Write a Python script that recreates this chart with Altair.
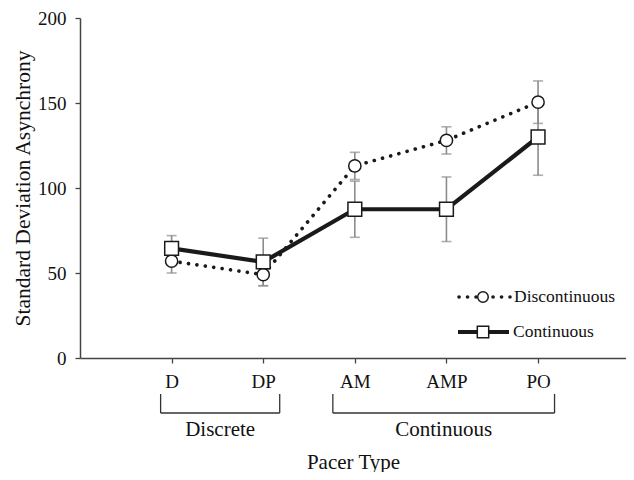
import altair as alt
import pandas as pd

categories = ["D", "DP", "AM", "AMP", "PO"]
series = ["Discontinuous", "Continuous"]
disc_mean = [57, 49, 113, 128, 150.5]
disc_err = [7, 6.5, 8, 8, 12.5]
cont_mean = [64.5, 56.5, 87.5, 87.5, 130]
cont_err = [7.5, 14, 16.5, 19, 22.5]

groups = ["Discrete", "Continuous"]
group_lo = [0.88, 2.76]
group_hi = [2.18, 5.18]

y_ticks = [0, 50, 100, 150, 200]

FONT = "Liberation Serif"
LINE = "#1a1a1a"
ERR = "#8c8c8c"
TXT = "#111111"
AX = "#444444"

rows = []
for s, means, errs in [(series[0], disc_mean, disc_err), (series[1], cont_mean, cont_err)]:
    for i, c in enumerate(categories):
        rows.append({"series": s, "cat": c, "x": i + 1, "mean": means[i],
                     "lo": means[i] - errs[i], "hi": means[i] + errs[i]})
df = pd.DataFrame(rows)
caps = pd.concat([
    df[["series", "x", "lo"]].rename(columns={"lo": "v"}),
    df[["series", "x", "hi"]].rename(columns={"hi": "v"}),
])
gdf = pd.DataFrame({"group": groups, "lo": group_lo, "hi": group_hi})
gdf["mid"] = (gdf["lo"] + gdf["hi"]) / 2

label_expr = "[''," + ",".join("'%s'" % c for c in categories) + ",''][datum.value]"

xscale = alt.Scale(domain=[0, 5.96], nice=False)
yscale = alt.Scale(domain=[0, 200], nice=False)

common_axis = dict(grid=False, tickSize=5, labelFont=FONT, titleFont=FONT,
                   labelColor=TXT, titleColor=TXT, domainColor=AX, tickColor=AX,
                   domainWidth=1.5, tickWidth=1.3, titleFontWeight="normal")
xaxis = alt.Axis(values=list(range(1, len(categories) + 1)), labelExpr=label_expr,
                 title="Pacer Type", labelPadding=9, titlePadding=60,
                 labelFontSize=19, titleFontSize=21, **common_axis)
yaxis = alt.Axis(values=y_ticks, title="Standard Deviation Asynchrony",
                 labelPadding=9, titlePadding=3,
                 labelFontSize=19, titleFontSize=21.5, **common_axis)

base = alt.Chart(df)

err_rule = base.mark_rule(color=ERR, strokeWidth=1.6).encode(
    x=alt.X("x:Q", scale=xscale, axis=xaxis),
    y=alt.Y("lo:Q", scale=yscale, axis=yaxis),
    y2="hi:Q",
)
err_cap = alt.Chart(caps).mark_tick(color=ERR, orient="horizontal", size=10, thickness=1.6).encode(
    x=alt.X("x:Q", scale=xscale),
    y=alt.Y("v:Q", scale=yscale),
)

line_disc = base.transform_filter(alt.datum.series == series[0]).mark_line(
    color=LINE, strokeWidth=3.6, strokeDash=[0.1, 8.4], strokeCap="round"
).encode(x=alt.X("x:Q", scale=xscale), y=alt.Y("mean:Q", scale=yscale))

line_cont = base.transform_filter(alt.datum.series == series[1]).mark_line(
    color=LINE, strokeWidth=4.2
).encode(x=alt.X("x:Q", scale=xscale), y=alt.Y("mean:Q", scale=yscale))

pt_disc = base.transform_filter(alt.datum.series == series[0]).mark_point(
    shape="circle", size=150, filled=True, fill="white", stroke=LINE, strokeWidth=1.5, opacity=1
).encode(x=alt.X("x:Q", scale=xscale), y=alt.Y("mean:Q", scale=yscale))

pt_cont = base.transform_filter(alt.datum.series == series[1]).mark_point(
    shape="square", size=190, filled=True, fill="white", stroke=LINE, strokeWidth=1.5, opacity=1
).encode(x=alt.X("x:Q", scale=xscale), y=alt.Y("mean:Q", scale=yscale))

# brackets under the x axis
gbase = alt.Chart(gdf)
br_h = gbase.mark_rule(color="#333333", strokeWidth=1.3).encode(
    x=alt.X("lo:Q", scale=xscale), x2="hi:Q", y=alt.value(395))
br_l = gbase.mark_rule(color="#333333", strokeWidth=1.3).encode(
    x=alt.X("lo:Q", scale=xscale), y=alt.value(376), y2=alt.value(395))
br_r = gbase.mark_rule(color="#333333", strokeWidth=1.3).encode(
    x=alt.X("hi:Q", scale=xscale), y=alt.value(376), y2=alt.value(395))
br_t = gbase.mark_text(font=FONT, fontSize=21, color=TXT, baseline="middle").encode(
    x=alt.X("mid:Q", scale=xscale), y=alt.value(412), text="group:N")

# manual legend
leg1 = pd.DataFrame({"label": [series[0]]})
leg2 = pd.DataFrame({"label": [series[1]]})
lg_l1 = alt.Chart(leg1).mark_rule(color=LINE, strokeWidth=3.6, strokeDash=[0.1, 8.4], strokeCap="round").encode(
    x=alt.value(379), x2=alt.value(430), y=alt.value(279))
lg_p1 = alt.Chart(leg1).mark_point(shape="circle", size=110, filled=True, fill="white", stroke=LINE,
                                   strokeWidth=1.5, opacity=1).encode(x=alt.value(403), y=alt.value(279))
lg_t1 = alt.Chart(leg1).mark_text(font=FONT, fontSize=17.5, align="left", baseline="middle", color=TXT).encode(
    x=alt.value(434), y=alt.value(279), text="label:N")
lg_l2 = alt.Chart(leg2).mark_rule(color=LINE, strokeWidth=4.2).encode(
    x=alt.value(378), x2=alt.value(429), y=alt.value(314))
lg_p2 = alt.Chart(leg2).mark_point(shape="square", size=130, filled=True, fill="white", stroke=LINE,
                                   strokeWidth=1.5, opacity=1).encode(x=alt.value(403), y=alt.value(314))
lg_t2 = alt.Chart(leg2).mark_text(font=FONT, fontSize=17.5, align="left", baseline="middle", color=TXT).encode(
    x=alt.value(433), y=alt.value(314), text="label:N")

chart = alt.layer(
    err_rule, err_cap, line_disc, line_cont, pt_disc, pt_cont,
    br_h, br_l, br_r, br_t,
    lg_l1, lg_l2, lg_p1, lg_p2, lg_t1, lg_t2,
).properties(
    width=546, height=340,
    autosize=alt.AutoSizeParams(type="none"),
    padding={"left": 72, "top": 10, "right": 0, "bottom": 114},
    background="white",
).configure_view(stroke=None)

chart.save("out.html", embed_options={"renderer": "svg", "actions": False})
